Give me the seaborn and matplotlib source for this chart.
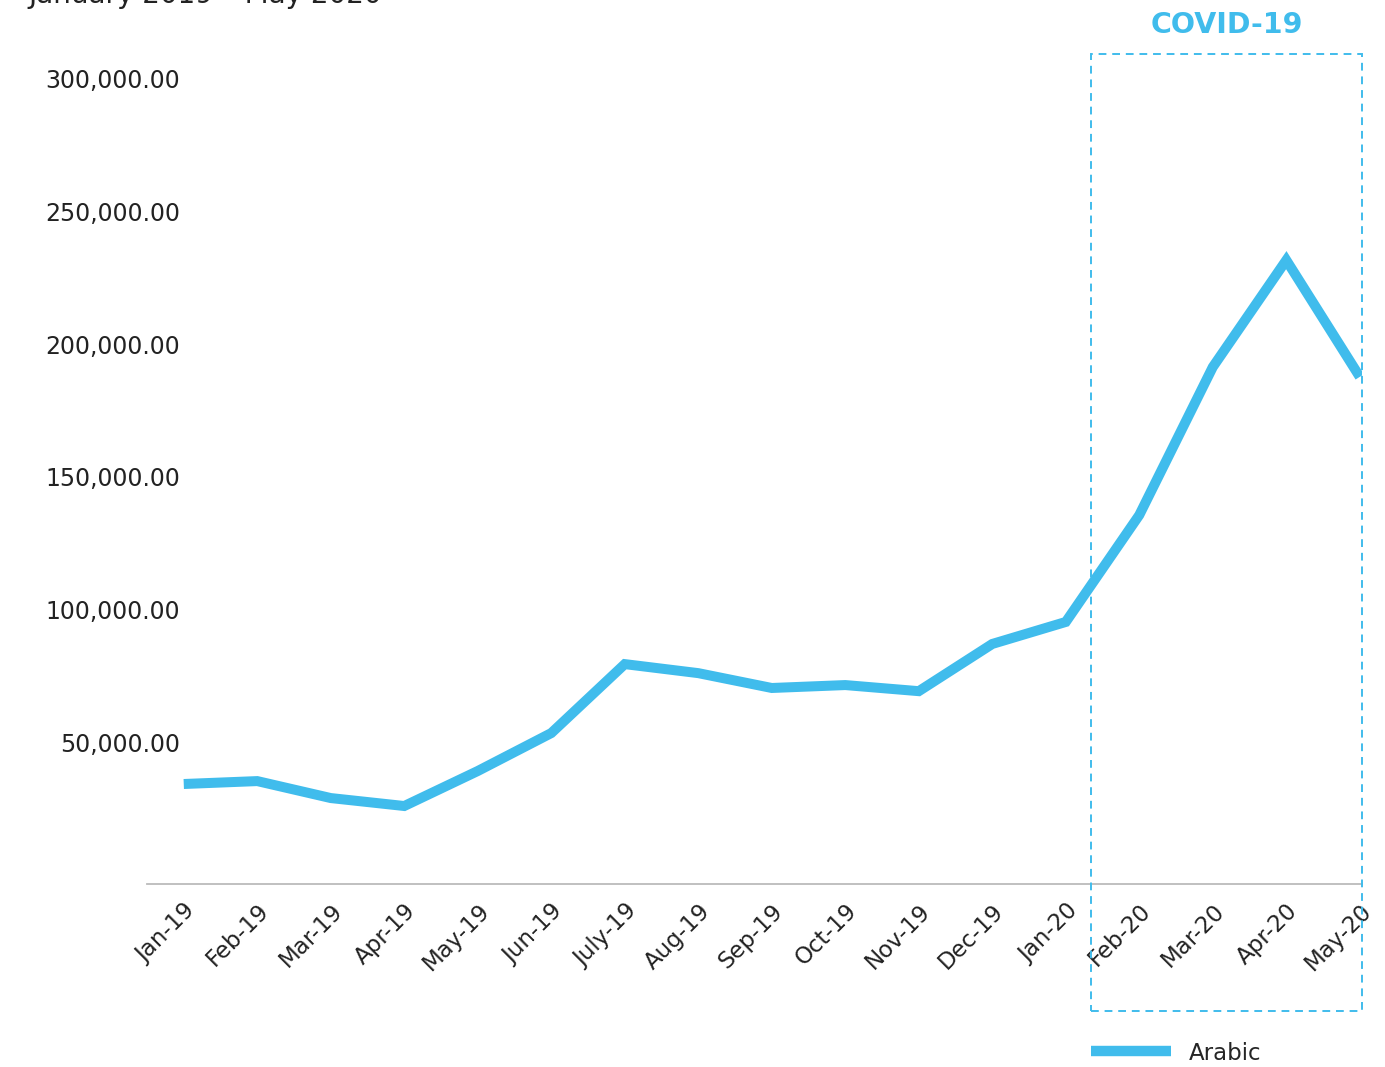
import matplotlib
matplotlib.use("Agg")
import matplotlib.pyplot as plt
import matplotlib.transforms as mtransforms
from matplotlib.patches import Rectangle
from matplotlib.lines import Line2D
import seaborn as sns
import pandas as pd

months = ["Jan-19", "Feb-19", "Mar-19", "Apr-19", "May-19", "Jun-19", "July-19",
          "Aug-19", "Sep-19", "Oct-19", "Nov-19", "Dec-19", "Jan-20", "Feb-20",
          "Mar-20", "Apr-20", "May-20"]
arabic = [34200, 35300, 28900, 25900, 39100, 53400, 79400, 76000, 70400, 71500,
          69200, 87000, 95300, 135600, 191400, 231700, 187700]
y_ticks = [50000, 100000, 150000, 200000, 250000, 300000]

BLUE = "#40BCEC"
TXT = "#222222"

sns.set_theme(style="white")
plt.rcParams["font.family"] = ["DejaVu Sans"]

W, H = 1385, 1067
fig = plt.figure(figsize=(W / 100, H / 100), dpi=100)
ax = fig.add_axes([147 / W, 1 - 884 / H, (1362 - 147) / W, (884 - 40) / H])

df = pd.DataFrame({"idx": range(len(months)), "value": arabic})
sns.lineplot(data=df, x="idx", y="value", ax=ax, color=BLUE, linewidth=7.2,
             legend=False, solid_capstyle="butt", solid_joinstyle="miter")

ax.set_xlim(-0.5, 16.03)
ax.set_ylim(-3500, 314700)
ax.set_xticks(range(len(months)))
ax.set_xticklabels(months, rotation=45, ha="right", rotation_mode="anchor",
                   fontsize=16.5, color=TXT)
ax.set_yticks(y_ticks)
ax.set_yticklabels([f"{v:,.2f}" for v in y_ticks], fontsize=17, color=TXT)
ax.tick_params(axis="y", length=0, pad=-24)
ax.tick_params(axis="x", length=0, pad=11)
ax.set_xlabel("")
ax.set_ylabel("")
for s in ["top", "right", "left"]:
    ax.spines[s].set_visible(False)
ax.spines["bottom"].set_color("#BBBBBB")
ax.spines["bottom"].set_linewidth(1.3)
ax.grid(False)

# COVID-19 dashed box
trans = mtransforms.blended_transform_factory(ax.transData, fig.transFigure)
rect = Rectangle((12.34, 1 - 1011 / H), 16.03 - 12.34, (1011 - 54) / H,
                 transform=trans, fill=False, edgecolor=BLUE, linewidth=1.4,
                 linestyle=(0, (4, 3)), clip_on=False)
fig.add_artist(rect)
fig.text(1227 / W, 1 - 25 / H, "COVID-19", color=BLUE, fontsize=20.5,
         fontweight="bold", ha="center", va="center")

# partially cut title (cut off at top edge, as in the reference)
fig.text(28 / W, 1 - 3 / H, "January 2019 – May 2020", fontsize=20,
         color=TXT, ha="left", va="baseline")

# legend
handle = Line2D([0], [0], color=BLUE, linewidth=7.5, solid_capstyle="butt")
fig.legend([handle], ["Arabic"], loc="center left",
           bbox_to_anchor=(1070 / W, 1 - 1053 / H), frameon=False,
           fontsize=16.5, handlelength=3.5, handletextpad=0.8)

fig.savefig("out.png", dpi=100)
